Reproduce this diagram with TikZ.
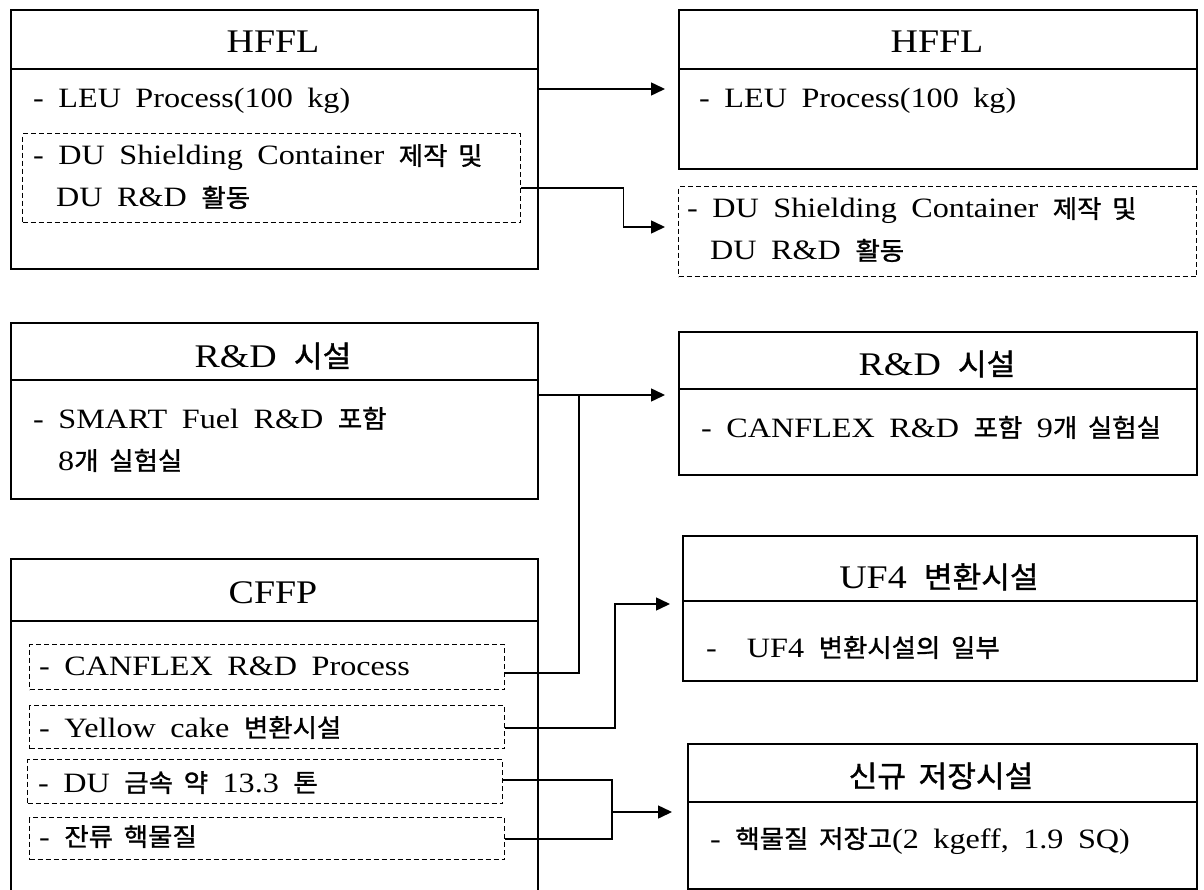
\documentclass[tikz,border=0pt]{standalone}
\usepackage{fontspec}
\setmainfont{Liberation Serif}[FakeStretch=1.15,WordSpace=1.8]
\newfontfamily\kr{Noto Sans CJK KR}[Scale=0.9,FakeStretch=1.05,FakeBold=1.2,WordSpace=1.8]
\newcommand\K[1]{{\kr #1}}
\usetikzlibrary{arrows.meta}
\tikzset{
 box/.style={draw, line width=2.2pt, rectangle, inner sep=0pt, anchor=north west},
 dbox/.style={draw, line width=1.4pt, dash pattern=on 5pt off 3pt, rectangle, inner sep=0pt, anchor=north west},
 hline/.style={line width=1.4pt},
 title/.style={anchor=base, inner sep=0pt, font=\fontsize{33}{38}\selectfont},
 txt/.style={anchor=base west, inner sep=0pt, font=\fontsize{28}{34}\selectfont},
 conn/.style={line width=1.5pt},
 arr/.style={conn, -{Triangle[length=14pt,width=13pt]}},
}
\begin{document}
\begin{tikzpicture}[x=1pt,y=-1pt]
\useasboundingbox[fill=white] (0,0) rectangle (1204,890);

% ---------- HFFL (left)
\node[box, minimum width=527pt, minimum height=259pt] (HL) at (10,9) {};
\draw[hline] (HL.west |- 0,69) -- (HL.east |- 0,69);
\node[title] (HLt) at (273,53) {HFFL};
\node[txt] (HLa) at (33,108) {- LEU Process(100 kg)};
\node[dbox, minimum width=498pt, minimum height=89pt] (HLd) at (22,133) {};
\node[txt] (HLb) at (33,165) {- DU Shielding Container \K{제작 및}};
\node[txt] (HLc) at (56,207) {DU R\&D \K{활동}};

% ---------- HFFL (right)
\node[box, minimum width=518pt, minimum height=159pt] (HR) at (678,9) {};
\draw[hline] (HR.west |- 0,69) -- (HR.east |- 0,69);
\node[title] (HRt) at (937,53) {HFFL};
\node[txt] (HRa) at (699,108) {- LEU Process(100 kg)};
\node[dbox, minimum width=518pt, minimum height=90pt] (HRd) at (678,186) {};
\node[txt] (HRb) at (687,218) {- DU Shielding Container \K{제작 및}};
\node[txt] (HRc) at (710,260) {DU R\&D \K{활동}};

% ---------- R&D (left)
\node[box, minimum width=527pt, minimum height=176pt] (RL) at (10,322) {};
\draw[hline] (RL.west |- 0,380) -- (RL.east |- 0,380);
\node[title] (RLt) at (273,367) {R\&D \K{시설}};
\node[txt] (RLa) at (33,428) {- SMART Fuel R\&D \K{포함}};
\node[txt] (RLb) at (58,470) {8\K{개 실험실}};

% ---------- R&D (right)
\node[box, minimum width=518pt, minimum height=143pt] (RR) at (678,331) {};
\draw[hline] (RR.west |- 0,389) -- (RR.east |- 0,389);
\node[title] (RRt) at (937,375) {R\&D \K{시설}};
\node[txt] (RRa) at (701,437) {- CANFLEX R\&D \K{포함} 9\K{개 실험실}};

% ---------- CFFP
\node[box, minimum width=527pt, minimum height=340pt] (CF) at (10,558) {};
\draw[hline] (CF.west |- 0,621) -- (CF.east |- 0,621);
\node[title] (CFt) at (273,603) {CFFP};
\node[dbox, minimum width=475pt, minimum height=45pt] (r1) at (29,644) {};
\node[txt] (r1t) at (39,675) {- CANFLEX R\&D Process};
\node[dbox, minimum width=475pt, minimum height=43pt] (r2) at (29,705) {};
\node[txt] (r2t) at (39,737) {- Yellow cake \K{변환시설}};
\node[dbox, minimum width=475pt, minimum height=44pt] (r3) at (27,759) {};
\node[txt] (r3t) at (38,792) {- DU \K{금속 약} 13.3 \K{톤}};
\node[dbox, minimum width=475pt, minimum height=42pt] (r4) at (29,817) {};
\node[txt] (r4t) at (39,846) {- \K{잔류 핵물질}};

% ---------- UF4
\node[box, minimum width=514pt, minimum height=145pt] (UF) at (682,535) {};
\draw[hline] (UF.west |- 0,601) -- (UF.east |- 0,601);
\node[title] (UFt) at (939,588) {UF4 \K{변환시설}};
\node[txt] (UFa) at (706,657) {-\hspace{30pt}UF4 \K{변환시설의 일부}};

% ---------- new storage
\node[box, minimum width=509pt, minimum height=145pt] (NS) at (687,743) {};
\draw[hline] (NS.west |- 0,802) -- (NS.east |- 0,802);
\node[title] (NSt) at (941,787) {\K{신규 저장시설}};
\node[txt] (NSa) at (710,848) {- \K{핵물질 저장고}(2 kgeff, 1.9 SQ)};

% ---------- connectors
\draw[arr, shorten >=13pt] (HL.east |- 0,89) -- (HR.west |- 0,89);
\draw[arr, shorten >=13pt] (HLd.east |- 0,188) -- ++(102,0) |- (HRd.west |- 0,227);
\draw[arr, shorten >=13pt] (RL.east |- 0,395) -- (RR.west |- 0,395);
\draw[conn] (r1.east |- 0,673) -| (579,395);
\draw[arr, shorten >=12pt] (r2.east |- 0,728) -| (615,604) -- (UF.west |- 0,604);
\draw[conn] (r3.east |- 0,780) -| (612,839) -- (r4.east |- 0,839);
\coordinate (j) at (612,812);
\draw[arr, shorten >=15pt] (j) -- (NS.west |- 0,812);
\end{tikzpicture}
\end{document}
